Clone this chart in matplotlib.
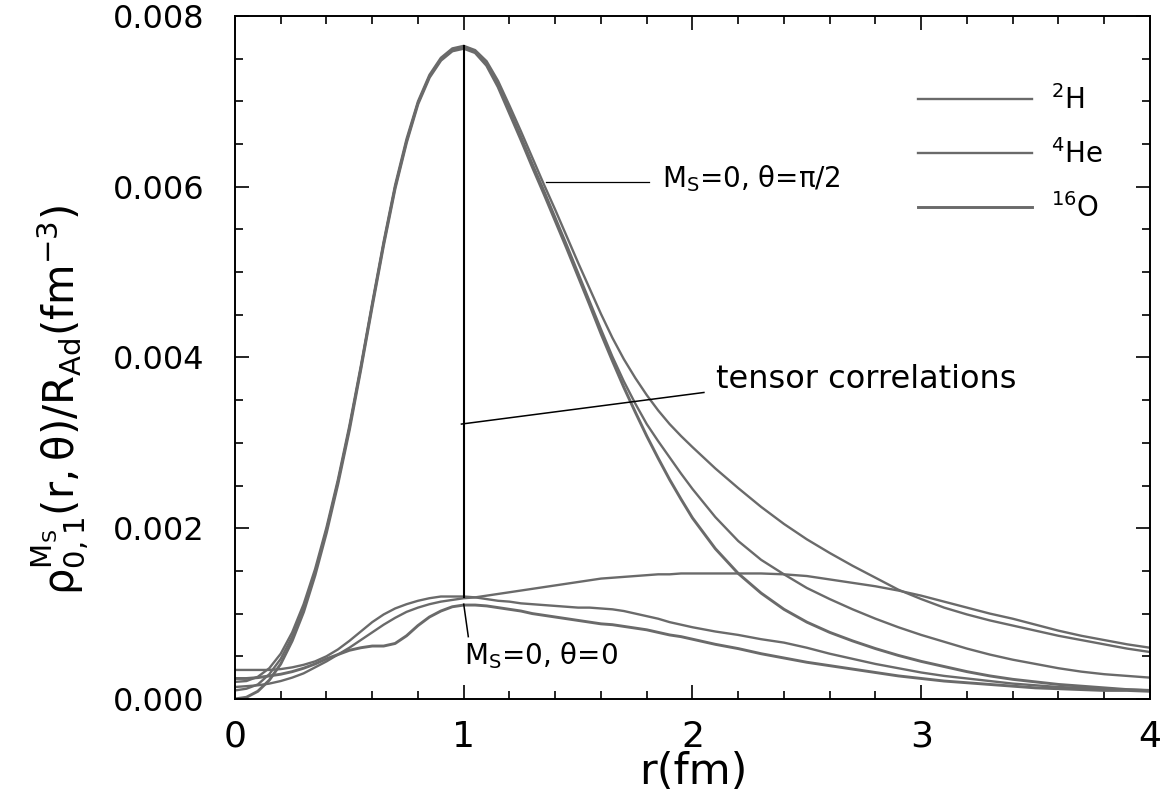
import numpy as np
import matplotlib
matplotlib.use("Agg")
import matplotlib.pyplot as plt
from matplotlib.lines import Line2D
from matplotlib.ticker import MultipleLocator, FormatStrFormatter

# =====================================================
# Two-body spin densities, Ms = 0
# r sampled every 0.05 fm up to 2 fm, then every 0.1 fm
# =====================================================

r = np.concatenate([np.linspace(0.0, 2.0, 41), np.linspace(2.1, 4.0, 20)])

# theta = pi/2 curves
h2_perp = [
    0.00020, 0.00021, 0.00026, 0.00036, 0.00053, 0.00078, 0.00111, 0.00152, 0.00201, 0.00257,
    0.00320, 0.00390, 0.00464, 0.00536, 0.00602, 0.00656, 0.00700, 0.00731, 0.00751, 0.00762,
    0.00765, 0.00760, 0.00747, 0.00724, 0.00695, 0.00665, 0.00634, 0.00603, 0.00573, 0.00542,
    0.00511, 0.00481, 0.00451, 0.00423, 0.00398, 0.00376, 0.00356, 0.00338, 0.00322, 0.00308,
    0.00295,
    0.00270, 0.00247, 0.00225, 0.00205, 0.00187, 0.00171, 0.00156, 0.00142, 0.00128, 0.00117,
    0.00107, 0.00099, 0.00092, 0.00086, 0.00080, 0.00074, 0.00069, 0.00064, 0.00059, 0.00055,
]
he4_perp = [
    0.00010, 0.00012, 0.00017, 0.00029, 0.00047, 0.00073, 0.00106, 0.00148, 0.00198, 0.00254,
    0.00317, 0.00387, 0.00461, 0.00533, 0.00599, 0.00653, 0.00698, 0.00729, 0.00749, 0.00760,
    0.00763, 0.00758, 0.00744, 0.00720, 0.00690, 0.00659, 0.00627, 0.00596, 0.00564, 0.00532,
    0.00499, 0.00466, 0.00433, 0.00401, 0.00372, 0.00346, 0.00322, 0.00302, 0.00283, 0.00264,
    0.00246,
    0.00213, 0.00185, 0.00163, 0.00146, 0.00130, 0.00117, 0.00105, 0.00094, 0.00084, 0.00075,
    0.00067, 0.00059, 0.00052, 0.00046, 0.00041, 0.00036, 0.00032, 0.00029, 0.00027, 0.00025,
]
o16_perp = [
    0.00000, 0.00002, 0.00009, 0.00022, 0.00041, 0.00068, 0.00102, 0.00145, 0.00195, 0.00252,
    0.00315, 0.00386, 0.00460, 0.00532, 0.00598, 0.00652, 0.00697, 0.00728, 0.00748, 0.00759,
    0.00762, 0.00757, 0.00742, 0.00717, 0.00686, 0.00655, 0.00623, 0.00592, 0.00560, 0.00528,
    0.00495, 0.00462, 0.00428, 0.00396, 0.00365, 0.00336, 0.00308, 0.00282, 0.00257, 0.00234,
    0.00212,
    0.00176, 0.00147, 0.00124, 0.00105, 0.00090, 0.00078, 0.00068, 0.00059, 0.00051, 0.00044,
    0.00038, 0.00032, 0.00027, 0.00023, 0.00020, 0.00017, 0.00015, 0.00013, 0.00011, 0.00010,
]

# theta = 0 curves
h2_par = [
    0.00014, 0.00015, 0.00016, 0.00018, 0.00021, 0.00025, 0.00030, 0.00037, 0.00044, 0.00052,
    0.00060, 0.00069, 0.00078, 0.00087, 0.00095, 0.00102, 0.00107, 0.00111, 0.00114, 0.00116,
    0.00118, 0.00119, 0.00121, 0.00123, 0.00125, 0.00127, 0.00129, 0.00131, 0.00133, 0.00135,
    0.00137, 0.00139, 0.00141, 0.00142, 0.00143, 0.00144, 0.00145, 0.00146, 0.00146, 0.00147,
    0.00147,
    0.00147, 0.00147, 0.00147, 0.00146, 0.00144, 0.00140, 0.00136, 0.00132, 0.00127, 0.00121,
    0.00114, 0.00107, 0.00100, 0.00094, 0.00087, 0.00080, 0.00074, 0.00069, 0.00064, 0.00060,
]
he4_par = [
    0.00034, 0.00034, 0.00034, 0.00034, 0.00035, 0.00037, 0.00040, 0.00044, 0.00050, 0.00058,
    0.00068, 0.00079, 0.00090, 0.00099, 0.00106, 0.00111, 0.00115, 0.00118, 0.00120, 0.00120,
    0.00120, 0.00119, 0.00117, 0.00115, 0.00114, 0.00112, 0.00111, 0.00110, 0.00109, 0.00108,
    0.00107, 0.00107, 0.00106, 0.00105, 0.00103, 0.00100, 0.00097, 0.00094, 0.00090, 0.00087,
    0.00084,
    0.00079, 0.00075, 0.00070, 0.00066, 0.00060, 0.00053, 0.00047, 0.00041, 0.00036, 0.00031,
    0.00027, 0.00024, 0.00021, 0.00018, 0.00016, 0.00014, 0.00013, 0.00012, 0.00011, 0.00010,
]
o16_par = [
    0.00024, 0.00024, 0.00025, 0.00027, 0.00029, 0.00032, 0.00036, 0.00041, 0.00047, 0.00052,
    0.00057, 0.00060, 0.00062, 0.00062, 0.00065, 0.00074, 0.00086, 0.00096, 0.00103, 0.00108,
    0.00110, 0.00110, 0.00109, 0.00107, 0.00105, 0.00103, 0.00100, 0.00098, 0.00096, 0.00094,
    0.00092, 0.00090, 0.00088, 0.00087, 0.00085, 0.00083, 0.00081, 0.00078, 0.00075, 0.00073,
    0.00070,
    0.00064, 0.00059, 0.00053, 0.00048, 0.00043, 0.00039, 0.00035, 0.00031, 0.00027, 0.00024,
    0.00021, 0.00019, 0.00017, 0.00015, 0.00013, 0.00012, 0.00011, 0.00010, 0.00010, 0.00009,
]

nuclei = [r"$^{2}$H", r"$^{4}$He", r"$^{16}$O"]
perp = [h2_perp, he4_perp, o16_perp]
par = [h2_par, he4_par, o16_par]
widths = [1.7, 1.7, 2.1]
gray = "#6a6a6a"

# =====================================================
# Figure
# =====================================================

plt.rcParams["font.family"] = "DejaVu Sans"
plt.rcParams["mathtext.fontset"] = "dejavusans"
plt.rcParams["mathtext.default"] = "regular"

fig = plt.figure(figsize=(11.65, 7.99), dpi=100)
ax = fig.add_axes([0.2017, 0.1252, 0.7854, 0.8548])

for yp, y0, lw in zip(perp, par, widths):
    ax.plot(r, yp, color=gray, lw=lw, solid_joinstyle="round")
    ax.plot(r, y0, color=gray, lw=lw, solid_joinstyle="round")

ax.set_xlim(0, 4)
ax.set_ylim(0, 0.008)

ax.xaxis.set_major_locator(MultipleLocator(1))
ax.xaxis.set_minor_locator(MultipleLocator(0.2))
ax.yaxis.set_major_locator(MultipleLocator(0.002))
ax.yaxis.set_minor_locator(MultipleLocator(0.0005))
ax.yaxis.set_major_formatter(FormatStrFormatter("%.3f"))

ax.tick_params(which="both", direction="in", top=True, right=True, width=1.2)
ax.tick_params(which="major", length=10)
ax.tick_params(which="minor", length=6)
ax.tick_params(axis="y", labelsize=23, pad=22)
ax.tick_params(axis="x", labelsize=26, pad=15)
for sp in ax.spines.values():
    sp.set_linewidth(1.4)

# =====================================================
# Annotations
# =====================================================

peak = max(h2_perp)
ax.plot([1.0, 1.0], [0.00119, peak], color="black", lw=1.5)

ax.plot([0.99, 2.05], [0.00322, 0.00359], color="black", lw=1.1)
ax.text(2.105, 0.00364, "tensor correlations", fontsize=23,
        ha="left", va="baseline")

ax.plot([1.36, 1.81], [0.00606, 0.00606], color="black", lw=0.9)
ax.text(1.865, 0.0060, r"M$_{\rm S}$=0, θ=π/2", fontsize=20,
        ha="left", va="baseline")

ax.plot([1.0, 1.02], [0.00111, 0.00073], color="black", lw=1.1)
ax.text(1.0, 0.00041, r"M$_{\rm S}$=0, θ=0", fontsize=20,
        ha="left", va="baseline")

handles = [Line2D([], [], color=gray, lw=lw) for lw in widths]
ax.legend(handles, nuclei, loc="upper left", bbox_to_anchor=(0.7464, 0.899),
          frameon=False, fontsize=20, handlelength=4.1, handletextpad=0.68,
          labelspacing=0.87, borderpad=0, borderaxespad=0)

fig.text(693 / 1165, 1 - 772 / 799, "r(fm)", fontsize=31,
         ha="center", va="center")
fig.text(60 / 1165, 1 - 400 / 799,
         r"$\rho_{0,1}^{M_S}(r,\theta)/R_{Ad}(fm^{-3})$",
         fontsize=30, rotation=90, ha="center", va="center")

fig.savefig("out.png", dpi=100, facecolor="white")
